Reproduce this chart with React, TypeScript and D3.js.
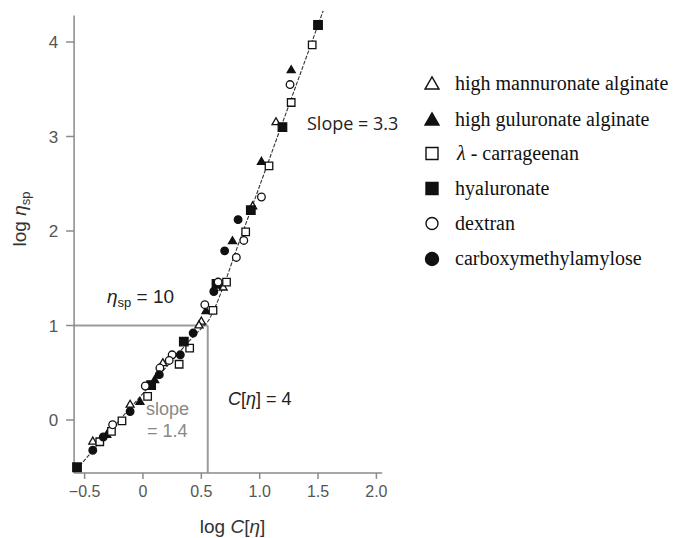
import React from 'react';
import * as d3 from 'd3';

const W = 673;
const H = 538;

// axis ticks
const xTicks = [-0.5, 0, 0.5, 1.0, 1.5, 2.0];
const xTickLabels = ['\u22120.5', '0', '0.5', '1.0', '1.5', '2.0'];
const yTicks = [0, 1, 2, 3, 4];
const yTickLabels = ['0', '1', '2', '3', '4'];

// series: [log C[eta], log eta_sp]
const highMannuronate: [number, number][] = [
  [1.14, 3.15], [0.94, 2.26], [0.687, 1.4], [0.5, 1.04], [0.48, 1.0],
  [0.17, 0.6], [-0.11, 0.16], [-0.43, -0.23],
];
const highGuluronate: [number, number][] = [
  [1.27, 3.7], [1.015, 2.73], [0.767, 1.89], [0.54, 1.15], [0.1, 0.42],
  [-0.026, 0.19], [-0.31, -0.16],
];
const carrageenan: [number, number][] = [
  [1.45, 3.97], [1.27, 3.36], [1.08, 2.69], [0.88, 1.99], [0.716, 1.46],
  [0.6, 1.16], [0.4, 0.76], [0.31, 0.59], [0.04, 0.25], [-0.18, -0.01],
  [-0.27, -0.12], [-0.37, -0.23],
];
const hyaluronate: [number, number][] = [
  [1.5, 4.18], [1.195, 3.1], [0.924, 2.22], [0.63, 1.44], [0.35, 0.83],
  [0.07, 0.37], [-0.565, -0.5],
];
const dextran: [number, number][] = [
  [1.26, 3.55], [1.015, 2.36], [0.864, 1.9], [0.8, 1.72], [0.644, 1.46],
  [0.53, 1.22], [0.25, 0.69], [0.225, 0.63], [0.145, 0.55], [0.02, 0.36],
  [-0.26, -0.05],
];
const carboxymethylamylose: [number, number][] = [
  [0.815, 2.12], [0.7, 1.79], [0.607, 1.36], [0.43, 0.92], [0.32, 0.69],
  [0.14, 0.48], [-0.11, 0.09], [-0.34, -0.18], [-0.43, -0.32],
];

// fitted master curve (slope 1.4 below the bend, 3.3 above)
const fitCurve: [number, number][] = [
  [-0.575, -0.53], [-0.2, 0.0], [0.2, 0.56], [0.4, 0.84], [0.5, 0.97],
  [0.56, 1.05], [0.62, 1.2], [0.7, 1.45], [0.8, 1.8], [0.924, 2.22],
  [1.2, 3.16], [1.544, 4.33],
];

// critical overlap point
const criticalX = 0.555;
const criticalY = 1.0;

const legendLabels = [
  'high mannuronate alginate',
  'high guluronate alginate',
  '\u03bb - carrageenan',
  'hyaluronate',
  'dextran',
  'carboxymethylamylose',
];

type Kind = 'triOpen' | 'triFill' | 'sqOpen' | 'sqFill' | 'cirOpen' | 'cirFill';

const seriesList: { data: [number, number][]; kind: Kind }[] = [
  { data: highMannuronate, kind: 'triOpen' },
  { data: highGuluronate, kind: 'triFill' },
  { data: carrageenan, kind: 'sqOpen' },
  { data: hyaluronate, kind: 'sqFill' },
  { data: dextran, kind: 'cirOpen' },
  { data: carboxymethylamylose, kind: 'cirFill' },
];

const x = d3.scaleLinear().domain([-0.5, 2.0]).range([84.6, 376.4]);
const y = d3.scaleLinear().domain([0, 4]).range([420, 42]);

const X_MIN = -0.59;
const X_MAX = 2.05;
const Y_MIN = -0.56;
const Y_MAX = 4.28;

const sans = '"Liberation Sans", Arial, Helvetica, sans-serif';
const serif = '"Liberation Serif", "Times New Roman", serif';

function symbolPath(kind: Kind, legend: boolean): string {
  const s = legend ? 1 : 0;
  if (kind === 'triOpen' || kind === 'triFill') {
    const side = legend ? 14 : 8;
    return d3.symbol().type(d3.symbolTriangle).size((Math.sqrt(3) / 4) * side * side)()!;
  }
  if (kind === 'sqOpen' || kind === 'sqFill') {
    const side = legend ? 12 : kind === 'sqFill' ? 8.5 : 7.5;
    return d3.symbol().type(d3.symbolSquare).size(side * side)()!;
  }
  const r = legend ? (kind === 'cirFill' ? 6.5 : 6) : 3.8 + s;
  return d3.symbol().type(d3.symbolCircle).size(Math.PI * r * r)()!;
}

function isFilled(kind: Kind) {
  return kind === 'triFill' || kind === 'sqFill' || kind === 'cirFill';
}

export default function App() {
  const line = d3
    .line<[number, number]>()
    .x((d) => x(d[0]))
    .y((d) => y(d[1]))
    .curve(d3.curveMonotoneX);

  const axisLeft = x(X_MIN);
  const axisBottom = y(Y_MIN);

  const legendX = 432;
  const legendY = [84, 120, 153.5, 188.5, 223.5, 259];

  return (
    <svg
      width={W}
      height={H}
      style={{ position: 'absolute', left: 0, top: 0, background: '#fff' }}
    >
      <rect width={W} height={H} fill="#fff" />

      {/* reference lines at eta_sp = 10 */}
      <line
        x1={axisLeft}
        x2={x(criticalX)}
        y1={y(criticalY)}
        y2={y(criticalY)}
        stroke="#9a9a9a"
        strokeWidth={2}
      />
      <line
        x1={x(criticalX)}
        x2={x(criticalX)}
        y1={y(criticalY)}
        y2={axisBottom}
        stroke="#9a9a9a"
        strokeWidth={2}
      />

      {/* axes */}
      <line x1={axisLeft} x2={axisLeft} y1={y(Y_MAX)} y2={axisBottom} stroke="#8a8a8a" strokeWidth={1.5} />
      <line x1={axisLeft} x2={x(X_MAX)} y1={axisBottom} y2={axisBottom} stroke="#8a8a8a" strokeWidth={1.5} />
      {xTicks.map((t, i) => (
        <g key={'xt' + i}>
          <line x1={x(t)} x2={x(t)} y1={axisBottom} y2={axisBottom + 6} stroke="#8a8a8a" strokeWidth={1.5} />
          <text
            x={x(t)}
            y={axisBottom + 24}
            textAnchor="middle"
            fontFamily={sans}
            fontSize={16}
            fill="#555"
          >
            {xTickLabels[i]}
          </text>
        </g>
      ))}
      {yTicks.map((t, i) => (
        <g key={'yt' + i}>
          <line x1={axisLeft - 8} x2={axisLeft} y1={y(t)} y2={y(t)} stroke="#8a8a8a" strokeWidth={1.5} />
          <text
            x={axisLeft - 16}
            y={y(t) + 6}
            textAnchor="end"
            fontFamily={sans}
            fontSize={17}
            fill="#555"
          >
            {yTickLabels[i]}
          </text>
        </g>
      ))}

      {/* axis titles */}
      <text
        transform="translate(26,219) rotate(-90)"
        textAnchor="middle"
        fontFamily={sans}
        fontSize={19}
        fill="#333"
      >
        log <tspan fontStyle="italic">{'\u03b7'}</tspan>
        <tspan fontSize={13} dy={4}>sp</tspan>
      </text>
      <text x={232.5} y={533} textAnchor="middle" fontFamily={sans} fontSize={19} fill="#333">
        log <tspan fontStyle="italic">C</tspan>[<tspan fontStyle="italic">{'\u03b7'}</tspan>]
      </text>

      {/* fitted curve */}
      <path
        d={line(fitCurve) || ''}
        fill="none"
        stroke="#333"
        strokeWidth={1.1}
        strokeDasharray="4 1.5"
      />

      {/* data points */}
      {seriesList.map((s, si) =>
        s.data.map((d, i) => (
          <path
            key={si + '-' + i}
            d={symbolPath(s.kind, false)}
            transform={`translate(${x(d[0])},${y(d[1])})`}
            fill={isFilled(s.kind) ? '#111' : '#fff'}
            stroke="#111"
            strokeWidth={1.3}
          />
        ))
      )}

      {/* annotations */}
      <text x={107} y={303} fontFamily={sans} fontSize={19} fill="#222">
        <tspan fontStyle="italic">{'\u03b7'}</tspan>
        <tspan fontSize={13} dy={4}>sp</tspan>
        <tspan dy={-4}> = 10</tspan>
      </text>
      <text x={228} y={405} fontFamily={sans} fontSize={18} fill="#222">
        <tspan fontStyle="italic">C</tspan>[<tspan fontStyle="italic">{'\u03b7'}</tspan>] = 4
      </text>
      <text x={146} y={415} fontFamily={sans} fontSize={18} fill="#888">
        slope
      </text>
      <text x={147} y={437} fontFamily={sans} fontSize={18} fill="#888">
        = 1.4
      </text>
      <text x={307} y={130} fontFamily={'"Open Sans", sans-serif'} fontSize={18} fill="#222">
        Slope = 3.3
      </text>

      {/* legend */}
      {seriesList.map((s, i) => (
        <g key={'lg' + i}>
          <path
            d={symbolPath(s.kind, true)}
            transform={`translate(${legendX},${legendY[i] + (s.kind === 'triOpen' || s.kind === 'triFill' ? 1 : 0)})`}
            fill={isFilled(s.kind) ? '#111' : '#fff'}
            stroke="#111"
            strokeWidth={1.4}
          />
          <text
            x={i === 2 ? 457 : 455}
            y={legendY[i] + 6}
            fontFamily={serif}
            fontSize={20}
            fill="#111"
          >
            {i === 2 ? (
              <>
                <tspan fontStyle="italic">{'\u03bb'}</tspan>
                {' - carrageenan'}
              </>
            ) : (
              legendLabels[i]
            )}
          </text>
        </g>
      ))}
    </svg>
  );
}
